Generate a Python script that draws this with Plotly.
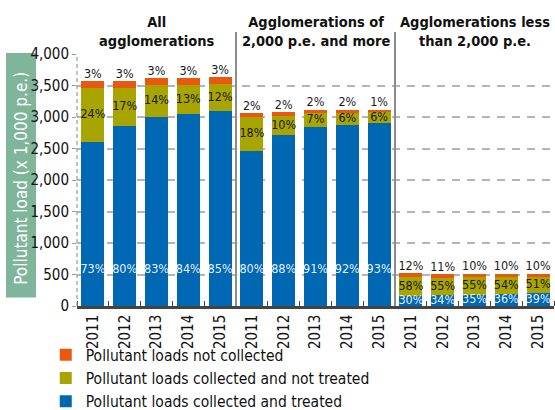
import plotly.graph_objects as go

FONT = "Liberation Sans Narrow, DejaVu Sans Condensed, Arial Narrow, sans-serif"

years = ["2011", "2012", "2013", "2014", "2015"]
group_titles = ["All<br>agglomerations",
                "Agglomerations of<br>2,000 p.e. and more",
                "Agglomerations less<br>than 2,000 p.e."]

# values in 1,000 p.e. (groups: all / >=2,000 / <2,000)
treated_all = [2610, 2860, 3005, 3042, 3091]
not_treated_all = [858, 605, 507, 471, 436]
not_collected_all = [107, 107, 109, 108, 110]

treated_big = [2453, 2712, 2838, 2870, 2900]
not_treated_big = [553, 308, 218, 187, 187]
not_collected_big = [61, 62, 62, 62, 31]

treated_small = [156, 171, 180, 185, 200]
not_treated_small = [302, 277, 283, 278, 263]
not_collected_small = [62, 55, 52, 52, 52]

# percentage labels
pct_treated = [73, 80, 83, 84, 85, 80, 88, 91, 92, 93, 30, 34, 35, 36, 39]
pct_not_treated = [24, 17, 14, 13, 12, 18, 10, 7, 6, 6, 58, 55, 55, 54, 51]
pct_not_collected = [3, 3, 3, 3, 3, 2, 2, 2, 2, 1, 12, 11, 10, 10, 10]

treated = treated_all + treated_big + treated_small
not_treated = not_treated_all + not_treated_big + not_treated_small
not_collected = not_collected_all + not_collected_big + not_collected_small
tick_labels = years * 3
xs = list(range(len(tick_labels)))

BLUE = "#0067b2"
OLIVE = "#a8a400"
ORANGE = "#e8590f"

fig = go.Figure()
fig.add_trace(go.Bar(x=xs, y=treated, marker_color=BLUE, marker_line_width=0,
                     name="Pollutant loads collected and treated"))
fig.add_trace(go.Bar(x=xs, y=not_treated, marker_color=OLIVE, marker_line_width=0,
                     name="Pollutant loads collected and not treated"))
fig.add_trace(go.Bar(x=xs, y=not_collected, marker_color=ORANGE, marker_line_width=0,
                     name="Pollutant loads not collected"))

totals = [a + b + c for a, b, c in zip(treated, not_treated, not_collected)]
olive_mid = [a + b / 2 for a, b in zip(treated, not_treated)]
blue_pos = [580 if i < 10 else treated[i] / 2 for i in xs]

LBL = 12.5
fig.add_trace(go.Scatter(x=xs, y=blue_pos, mode="text", showlegend=False,
                         text=[f"{p}%" for p in pct_treated],
                         textfont=dict(family=FONT, size=LBL, color="#e6f0fa"),
                         hoverinfo="skip"))
fig.add_trace(go.Scatter(x=xs, y=olive_mid, mode="text", showlegend=False,
                         text=[f"{p}%" for p in pct_not_treated],
                         textfont=dict(family=FONT, size=LBL, color="#1a1a1a"),
                         hoverinfo="skip"))
fig.add_trace(go.Scatter(x=xs, y=totals, mode="text", textposition="top center",
                         showlegend=False,
                         text=[f"{p}%" for p in pct_not_collected],
                         textfont=dict(family=FONT, size=LBL, color="#1a1a1a"),
                         hoverinfo="skip"))

shapes = []
# dashed left axis line
shapes.append(dict(type="line", xref="paper", yref="y", x0=0, x1=0, y0=0, y1=4000,
                   line=dict(color="#999999", width=1.2, dash="4px,3px")))
# group separators
for b in [4.5, 9.5]:
    shapes.append(dict(type="line", xref="x", yref="paper", x0=b, x1=b, y0=0, y1=1.087,
                       line=dict(color="#8c8c8c", width=2)))
# y-title box
shapes.append(dict(type="rect", xref="paper", yref="paper",
                   x0=-71 / 477, x1=-41 / 477, y0=(306.5 - 298) / 252.5, y1=(306.5 - 53) / 252.5,
                   fillcolor="#7fb59b", line=dict(width=0), layer="below"))

annotations = []
for g, t in enumerate(group_titles):
    annotations.append(dict(x=g * 5 + 2, y=1.012, xref="x", yref="paper", text=f"<b>{t}</b>",
                            showarrow=False, yanchor="bottom", xanchor="center",
                            font=dict(family=FONT, size=14.5, color="#111111")))
annotations.append(dict(x=-56 / 477, y=(306.5 - 179) / 252.5, xref="paper", yref="paper",
                        xanchor="center", yanchor="middle",
                        text="Pollutant load (x 1,000 p.e.)", textangle=-90, showarrow=False,
                        font=dict(family=FONT, size=17, color="white")))

fig.update_layout(
    width=555, height=410,
    margin=dict(l=77, r=1, t=54, b=103.5, autoexpand=False),
    barmode="stack", bargap=0.28,
    plot_bgcolor="white", paper_bgcolor="white",
    font=dict(family=FONT, size=15, color="#111111"),
    shapes=shapes, annotations=annotations,
    legend=dict(orientation="v", x=-0.0655, xanchor="left", y=-0.128, yanchor="top",
                traceorder="reversed", font=dict(family=FONT, size=15.5, color="#111111"),
                itemwidth=30, tracegroupgap=0, bgcolor="rgba(0,0,0,0)"),
    xaxis=dict(range=[-0.5, 14.5], tickmode="array", tickvals=xs, ticktext=tick_labels,
               tickangle=-90, ticks="", showgrid=False, zeroline=False,
               showline=True, linecolor="#444444", linewidth=2.5,
               tickfont=dict(family=FONT, size=15, color="#111111"),
               minor=dict(tickvals=[i + 0.5 for i in range(-1, 15)], ticks="inside",
                          ticklen=5, tickcolor="#444444", tickwidth=1.2, showgrid=False)),
    yaxis=dict(range=[0, 4000], tickvals=[0, 500, 1000, 1500, 2000, 2500, 3000, 3500, 4000],
               tickformat=",d", showgrid=True, gridcolor="#b5b5b5", gridwidth=1.5,
               griddash="8px,7px", zeroline=False, showline=False,
               ticks="outside", ticklen=4, tickcolor="#999999",
               tickfont=dict(family=FONT, size=15, color="#111111")),
)

fig.write_html("out.html", config={"displayModeBar": False},
               post_script="document.body.style.margin='0';document.body.style.overflow='hidden';")
